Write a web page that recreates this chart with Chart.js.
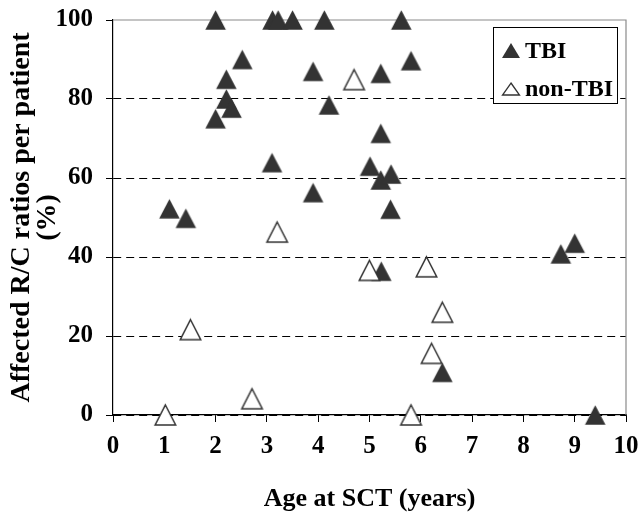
<!DOCTYPE html>
<html>
<head>
<meta charset="utf-8">
<script src="https://cdn.jsdelivr.net/npm/chart.js@4/dist/chart.umd.min.js"></script>
<style>
  html, body { margin: 0; padding: 0; background: #fff; }
  canvas { display: block; }
</style>
</head>
<body>
<canvas id="c" width="641" height="514"></canvas>
<script>
// Age at SCT (years) and share of affected R/C ratios (%) per patient
const ageTBI = [2.0, 3.11, 3.22, 3.5, 4.12, 5.62, 2.52, 2.21, 2.21, 2.31, 2.0, 3.9, 4.21,
                5.81, 5.22, 3.1, 3.9, 1.1, 1.42, 5.22, 5.01, 5.22, 5.42, 5.41, 5.23,
                8.73, 9.0, 6.42, 9.4];
const pctTBI = [100, 100, 100, 100, 100, 100, 90, 85, 80, 77.7, 75, 87, 78.5,
                89.7, 86.5, 63.9, 56.3, 52.2, 49.8, 71.3, 63, 59.5, 61, 52.1, 36.4,
                40.8, 43.5, 10.8, 0];
const ageNonTBI = [4.7, 3.2, 1.51, 2.71, 1.02, 5.0, 6.11, 6.42, 6.21, 5.81];
const pctNonTBI = [84.9, 46.3, 21.6, 4.1, 0, 36.6, 37.5, 26, 15.6, 0];

const seriesNames = ['TBI', 'non-TBI'];
const xTicks = [0, 1, 2, 3, 4, 5, 6, 7, 8, 9, 10];
const yTicks = [0, 20, 40, 60, 80, 100];

const SERIF = "'Liberation Serif', 'Times New Roman', serif";
const INK = '#333333';

// Triangle marker drawn on a small canvas, centred on its bounding box
function triangleMarker(w, h, fill, stroke, lw) {
  const pad = Math.ceil(lw || 0) + 1;
  const c = document.createElement('canvas');
  c.width = Math.ceil(w) + pad * 2;
  c.height = Math.ceil(h) + pad * 2;
  const g = c.getContext('2d');
  const cx = c.width / 2, cy = c.height / 2;
  g.beginPath();
  g.moveTo(cx, cy - h / 2);
  g.lineTo(cx + w / 2, cy + h / 2);
  g.lineTo(cx - w / 2, cy + h / 2);
  g.closePath();
  g.fillStyle = fill;
  g.fill();
  if (stroke) {
    g.lineWidth = lw;
    g.strokeStyle = stroke;
    g.lineJoin = 'miter';
    g.stroke();
  }
  return c;
}

const filledTri = triangleMarker(20.5, 19.5, INK, null, 0);
const hollowTri = triangleMarker(20.5, 20, '#ffffff', INK, 1.5);

const toPoints = (xs, ys) => xs.map((x, i) => ({ x: x, y: ys[i] }));

// Grey frame on top and right of the plot area
const framePlugin = {
  id: 'frame',
  beforeDatasetsDraw(chart) {
    const { ctx, chartArea: a } = chart;
    ctx.save();
    ctx.strokeStyle = '#8a8a8a';
    ctx.lineWidth = 1.2;
    ctx.beginPath();
    ctx.moveTo(a.left, a.top);
    ctx.lineTo(a.right, a.top);
    ctx.lineTo(a.right, a.bottom);
    ctx.stroke();
    ctx.restore();
  }
};

// Boxed legend inside the plot area, upper right
const boxLegend = {
  id: 'boxLegend',
  afterDatasetsDraw(chart) {
    const { ctx, chartArea: a } = chart;
    const bx = a.right - 133, by = a.top + 7, bw = 124, bh = 76;
    ctx.save();
    ctx.fillStyle = '#fff';
    ctx.fillRect(bx, by, bw, bh);
    ctx.strokeStyle = '#000';
    ctx.lineWidth = 1;
    ctx.strokeRect(bx + 0.5, by + 0.5, bw, bh);

    const rows = [by + 24, by + 62];
    const symX = bx + 18;
    // filled symbol
    ctx.beginPath();
    ctx.moveTo(symX, rows[0] - 8);
    ctx.lineTo(symX + 9, rows[0] + 7);
    ctx.lineTo(symX - 9, rows[0] + 7);
    ctx.closePath();
    ctx.fillStyle = INK;
    ctx.fill();
    // hollow symbol
    ctx.beginPath();
    ctx.moveTo(symX, rows[1] - 6);
    ctx.lineTo(symX + 8.5, rows[1] + 6);
    ctx.lineTo(symX - 8.5, rows[1] + 6);
    ctx.closePath();
    ctx.fillStyle = '#fff';
    ctx.fill();
    ctx.lineWidth = 1.3;
    ctx.strokeStyle = INK;
    ctx.stroke();

    ctx.fillStyle = '#000';
    ctx.font = 'bold 24px ' + SERIF;
    ctx.textBaseline = 'middle';
    ctx.textAlign = 'left';
    const labels = [chart.data.datasets[1].label, chart.data.datasets[0].label];
    ctx.fillText(labels[0], bx + 32, rows[0] + 1);
    ctx.fillText(labels[1], bx + 32, rows[1] + 1);
    ctx.restore();
  }
};

new Chart(document.getElementById('c'), {
  type: 'scatter',
  data: {
    datasets: [
      {
        label: seriesNames[1],
        data: toPoints(ageNonTBI, pctNonTBI),
        pointStyle: hollowTri,
        order: 0,
        clip: false
      },
      {
        label: seriesNames[0],
        data: toPoints(ageTBI, pctTBI),
        pointStyle: filledTri,
        order: 1,
        clip: false
      }
    ]
  },
  options: {
    responsive: false,
    animation: false,
    devicePixelRatio: 1,
    layout: { padding: { left: 0, right: 15, top: 20, bottom: 0 } },
    plugins: {
      legend: { display: false },
      tooltip: { enabled: false }
    },
    scales: {
      x: {
        type: 'linear',
        min: 0,
        max: 10,
        afterBuildTicks: s => { s.ticks = xTicks.map(v => ({ value: v })); },
        afterFit: s => { s.height = 99; s.paddingLeft = 0; s.paddingRight = 0; },
        ticks: {
          color: '#000',
          padding: 10,
          maxRotation: 0,
          font: { family: SERIF, size: 25, weight: 'bold' }
        },
        grid: {
          drawOnChartArea: false,
          drawTicks: true,
          tickLength: 7,
          color: '#000',
          tickColor: '#000'
        },
        border: { display: true, color: '#000', width: 1.2 },
        title: {
          display: true,
          text: 'Age at SCT (years)',
          color: '#000',
          font: { family: SERIF, size: 26, weight: 'bold', lineHeight: 1.0 },
          padding: { top: 0, bottom: 2 }
        }
      },
      y: {
        type: 'linear',
        min: 0,
        max: 100,
        afterBuildTicks: s => { s.ticks = yTicks.map(v => ({ value: v })); },
        afterFit: s => { s.width = 113; s.paddingTop = 0; s.paddingBottom = 0; },
        ticks: {
          color: '#000',
          padding: 13,
          font: { family: SERIF, size: 25, weight: 'bold' }
        },
        grid: {
          drawTicks: true,
          tickLength: 7,
          lineWidth: 1,
          color: c => (c.tick && c.tick.value === 100) ? 'rgba(0,0,0,0)' : '#000',
          tickColor: '#000'
        },
        border: { display: true, color: '#000', width: 1.2, dash: [8, 5] },
        title: {
          display: true,
          text: ['Affected R/C ratios per patient', '(%)'],
          color: '#000',
          font: { family: SERIF, size: 28, weight: 'bold', lineHeight: 0.95 },
          padding: { top: 8, bottom: 0 }
        }
      }
    }
  },
  plugins: [framePlugin, boxLegend]
});
</script>
</body>
</html>
